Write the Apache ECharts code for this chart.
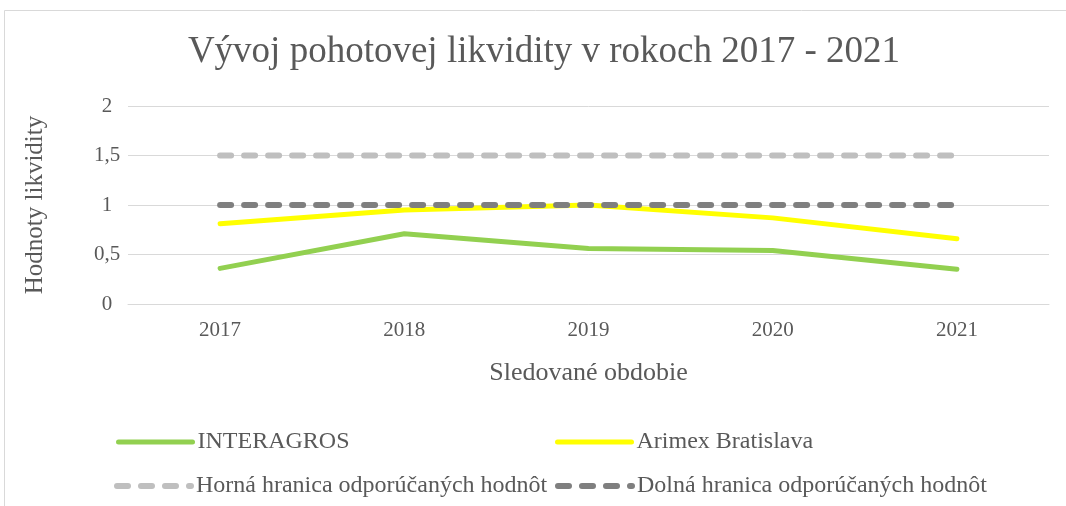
<!DOCTYPE html>
<html>
<head>
<meta charset="utf-8">
<script src="https://cdn.jsdelivr.net/npm/echarts@6/dist/echarts.min.js"></script>
<style>
  html, body { margin: 0; padding: 0; background: #fff; }
  #chart { width: 1066px; height: 506px; }
</style>
</head>
<body>
<div id="chart"></div>
<script>
const years = ['2017', '2018', '2019', '2020', '2021'];
const interagros = [0.36, 0.71, 0.56, 0.54, 0.35];
const arimex = [0.81, 0.95, 1.0, 0.87, 0.66];
const hornaHranica = [1.5, 1.5, 1.5, 1.5, 1.5];
const dolnaHranica = [1, 1, 1, 1, 1];

const font = '"Liberation Serif", "Times New Roman", serif';
const textColor = '#595959';

const chart = echarts.init(document.getElementById('chart'));

// one legend per item so they can sit on a 2x2 layout
function legendAt(name, left, top, dashed) {
  return {
    data: [name],
    left: left,
    top: top,
    itemWidth: 74,
    itemHeight: 8,
    selectedMode: false,
    itemStyle: { opacity: 0 },
    lineStyle: dashed ? { width: 6, cap: 'round' } : { width: 5, cap: 'round' },
    textStyle: { fontFamily: font, fontSize: 24, color: textColor }
  };
}

chart.setOption({
  backgroundColor: '#fff',
  textStyle: { fontFamily: font },
  title: {
    text: 'Vývoj pohotovej likvidity v rokoch 2017 - 2021',
    left: 539,
    textAlign: 'center',
    top: 29,
    textStyle: { fontFamily: font, fontSize: 37, fontWeight: 'normal', color: textColor }
  },
  graphic: [{
    type: 'rect',
    shape: { x: 4.5, y: 10.5, width: 1070, height: 500 },
    style: { fill: 'none', stroke: '#d9d9d9', lineWidth: 1 },
    silent: true
  }],
  grid: { left: 128, right: 17, top: 106, bottom: 202 },
  xAxis: {
    type: 'category',
    data: years,
    boundaryGap: true,
    name: 'Sledované obdobie',
    nameLocation: 'middle',
    nameGap: 56,
    nameTextStyle: { fontFamily: font, fontSize: 26, color: textColor },
    axisLine: { show: true, lineStyle: { color: '#d9d9d9' } },
    axisTick: { show: false },
    axisLabel: { fontFamily: font, fontSize: 21, color: textColor, margin: 16 }
  },
  yAxis: {
    type: 'value',
    min: 0,
    max: 2,
    interval: 0.5,
    name: 'Hodnoty likvidity',
    nameLocation: 'middle',
    nameGap: 80,
    nameTextStyle: { fontFamily: font, fontSize: 25, color: textColor },
    axisLine: { show: false },
    axisTick: { show: false },
    splitLine: { lineStyle: { color: '#d9d9d9', width: 1 } },
    axisLabel: {
      fontFamily: font, fontSize: 21, color: textColor, margin: 21, align: 'center',
      formatter: v => String(v).replace('.', ',')
    }
  },
  legend: [
    legendAt('INTERAGROS', 111, 425, false),
    legendAt('Arimex Bratislava', 550, 425, false),
    legendAt('Horná hranica odporúčaných hodnôt', 109, 469, true),
    legendAt('Dolná hranica odporúčaných hodnôt', 550, 469, true)
  ],
  series: [
    {
      name: 'Horná hranica odporúčaných hodnôt',
      type: 'line',
      data: hornaHranica,
      symbol: 'none',
      lineStyle: { color: '#bfbfbf', width: 6, type: [11, 13], cap: 'round' },
      itemStyle: { color: '#bfbfbf' },
      z: 2
    },
    {
      name: 'INTERAGROS',
      type: 'line',
      data: interagros,
      symbol: 'none',
      lineStyle: { color: '#92d050', width: 5, cap: 'round' },
      itemStyle: { color: '#92d050' },
      z: 3
    },
    {
      name: 'Arimex Bratislava',
      type: 'line',
      data: arimex,
      symbol: 'none',
      lineStyle: { color: '#ffff00', width: 5, cap: 'round' },
      itemStyle: { color: '#ffff00' },
      z: 3
    },
    {
      name: 'Dolná hranica odporúčaných hodnôt',
      type: 'line',
      data: dolnaHranica,
      symbol: 'none',
      lineStyle: { color: '#7f7f7f', width: 6, type: [11, 13], cap: 'round' },
      itemStyle: { color: '#7f7f7f' },
      z: 4
    }
  ]
});
</script>
</body>
</html>
